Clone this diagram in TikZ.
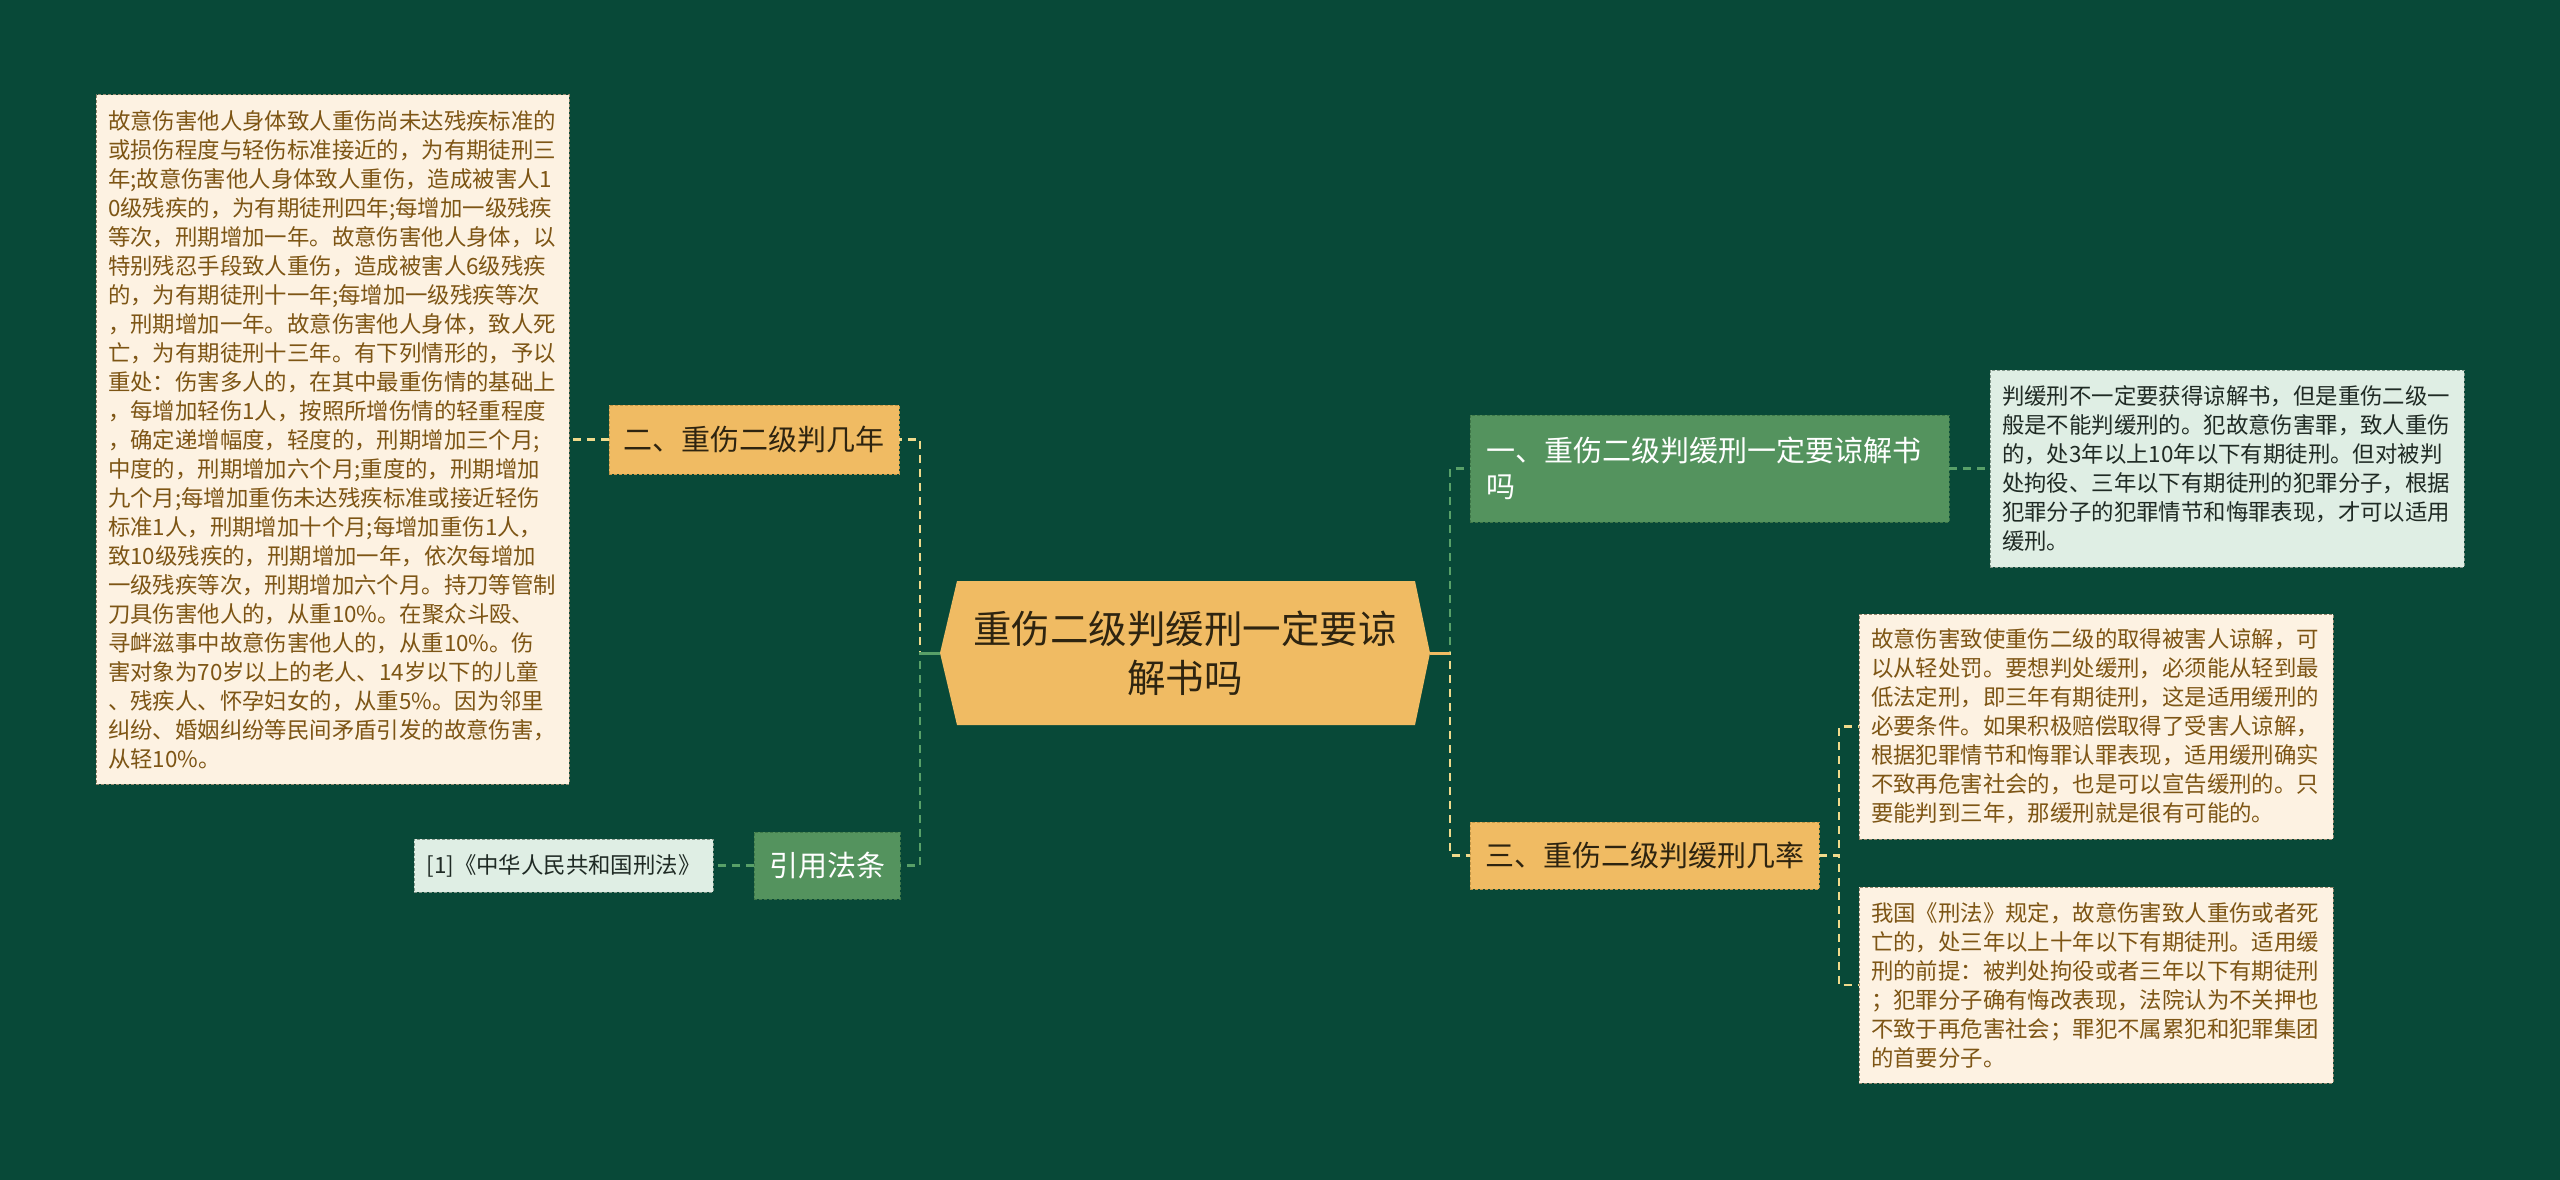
\documentclass[tikz,border=0pt]{standalone}
\usepackage{fontspec}
\setmainfont{Noto Sans CJK SC}
\definecolor{bgc}{RGB}{8,73,56}
\definecolor{yellowc}{RGB}{240,187,99}
\definecolor{yellowborder}{RGB}{196,150,70}
\definecolor{greenc}{RGB}{84,147,94}
\definecolor{greenborder}{RGB}{62,118,72}
\definecolor{creamc}{RGB}{253,242,226}
\definecolor{creamborder}{RGB}{150,135,110}
\definecolor{lgreenc}{RGB}{223,238,228}
\definecolor{lgreenborder}{RGB}{130,150,138}
\definecolor{browntext}{RGB}{125,85,20}
\definecolor{darktext}{RGB}{46,36,16}
\definecolor{lgtext}{RGB}{31,42,36}
\definecolor{ylink}{RGB}{240,218,140}
\definecolor{glink}{RGB}{88,160,104}
\begin{document}
\begin{tikzpicture}[x=1pt,y=-1pt,
  every node/.style={inner sep=0pt, outer sep=0pt},
  bx/.style={rectangle, dash pattern=on 3pt off 2pt, line width=1pt},
  creambox/.style={bx, fill=creamc, draw=creamborder, text=browntext, font=\fontsize{22.4}{29}\selectfont, align=left},
  lgbox/.style={bx, fill=lgreenc, draw=lgreenborder, text=lgtext, font=\fontsize{22.4}{29}\selectfont, align=left},
  ybox/.style={bx, fill=yellowc, draw=yellowborder, text=darktext, font=\fontsize{29}{36}\selectfont, align=center},
  gbox/.style={bx, fill=greenc, draw=greenborder, text=white, font=\fontsize{29}{36}\selectfont, align=left},
  ylinkst/.style={draw=ylink, line width=2.5pt, dash pattern=on 8pt off 6pt},
  glinkst/.style={draw=glink, line width=2.5pt, dash pattern=on 8pt off 6pt},
  ystub/.style={draw=yellowc, line width=3pt},
  gstub/.style={draw=glink, line width=3pt}
]
\fill[bgc] (0,0) rectangle (2560,1180);
\useasboundingbox (0,0) rectangle (2560,1180);

% central hexagon
\fill[yellowc] (940,653) -- (957,581) -- (1415,581) -- (1430,653) -- (1415,725) -- (957,725) -- cycle;
\node[text=darktext, font=\fontsize{38.5}{49}\selectfont, align=center] (C) at (1185,653) {重伤二级判缓刑一定要谅\\解书吗};
\coordinate (Cw) at (940,653);
\coordinate (Ce) at (1430,653);

% left side
\node[creambox, minimum width=473pt, minimum height=689pt, text width=449pt] (L) at (332.5,439.5) {故意伤害他人身体致人重伤尚未达残疾标准的\\或损伤程度与轻伤标准接近的，为有期徒刑三\\年;故意伤害他人身体致人重伤，造成被害人1\\0级残疾的，为有期徒刑四年;每增加一级残疾\\等次，刑期增加一年。故意伤害他人身体，以\\特别残忍手段致人重伤，造成被害人6级残疾\\的，为有期徒刑十一年;每增加一级残疾等次\\，刑期增加一年。故意伤害他人身体，致人死\\亡，为有期徒刑十三年。有下列情形的，予以\\重处：伤害多人的，在其中最重伤情的基础上\\，每增加轻伤1人，按照所增伤情的轻重程度\\，确定递增幅度，轻度的，刑期增加三个月;\\中度的，刑期增加六个月;重度的，刑期增加\\九个月;每增加重伤未达残疾标准或接近轻伤\\标准1人，刑期增加十个月;每增加重伤1人，\\致10级残疾的，刑期增加一年，依次每增加\\一级残疾等次，刑期增加六个月。持刀等管制\\刀具伤害他人的，从重10\%。在聚众斗殴、\\寻衅滋事中故意伤害他人的，从重10\%。伤\\害对象为70岁以上的老人、14岁以下的儿童\\、残疾人、怀孕妇女的，从重5\%。因为邻里\\纠纷、婚姻纠纷等民间矛盾引发的故意伤害，\\从轻10\%。};
\node[ybox, minimum width=290pt, minimum height=69pt] (two) at (754,439.5) {二、重伤二级判几年};
\node[gbox, align=center, minimum width=146pt, minimum height=67pt] (cite) at (827,865.5) {引用法条};
\node[lgbox, align=center, minimum width=299pt, minimum height=53pt] (ref) at (563.5,865.5) {[1]《中华人民共和国刑法》};

% right side
\node[gbox, minimum width=479pt, minimum height=107pt, text width=447pt] (one) at (1709.5,468.5) {一、重伤二级判缓刑一定要谅解书\\吗};
\node[lgbox, minimum width=474pt, minimum height=197pt, text width=450pt] (R1) at (2227,468.5) {判缓刑不一定要获得谅解书，但是重伤二级一\\般是不能判缓刑的。犯故意伤害罪，致人重伤\\的，处3年以上10年以下有期徒刑。但对被判\\处拘役、三年以下有期徒刑的犯罪分子，根据\\犯罪分子的犯罪情节和悔罪表现，才可以适用\\缓刑。};
\node[ybox, minimum width=349pt, minimum height=67pt] (three) at (1644.5,855.5) {三、重伤二级判缓刑几率};
\node[creambox, minimum width=474pt, minimum height=225pt, text width=450pt] (R2) at (2096,726.5) {故意伤害致使重伤二级的取得被害人谅解，可\\以从轻处罚。要想判处缓刑，必须能从轻到最\\低法定刑，即三年有期徒刑，这是适用缓刑的\\必要条件。如果积极赔偿取得了受害人谅解，\\根据犯罪情节和悔罪认罪表现，适用缓刑确实\\不致再危害社会的，也是可以宣告缓刑的。只\\要能判到三年，那缓刑就是很有可能的。};
\node[creambox, minimum width=474pt, minimum height=196pt, text width=450pt] (R3) at (2096,985) {我国《刑法》规定，故意伤害致人重伤或者死\\亡的，处三年以上十年以下有期徒刑。适用缓\\刑的前提：被判处拘役或者三年以下有期徒刑\\；犯罪分子确有悔改表现，法院认为不关押也\\不致于再危害社会；罪犯不属累犯和犯罪集团\\的首要分子。};

% connectors left
\draw[ylinkst] (Cw) -- ++(-20,0) |- (two.east);
\draw[glinkst] (Cw) -- ++(-20,0) |- (cite.east);
\draw[gstub] (Cw) -- ++(-20,0);
\draw[ylinkst] (two.west) -- (L.east);
\draw[glinkst] (cite.west) -- (ref.east);

% connectors right
\draw[glinkst] (Ce) -- ++(20,0) |- (one.west);
\draw[ylinkst] (Ce) -- ++(20,0) |- (three.west);
\draw[ystub] (Ce) -- ++(20,0);
\draw[glinkst] (one.east) -- (R1.west);
\draw[ylinkst] (three.east) -- ++(20,0) |- (R2.west);
\draw[ylinkst] (three.east) -- ++(20,0) |- (R3.west);
\end{tikzpicture}
\end{document}
